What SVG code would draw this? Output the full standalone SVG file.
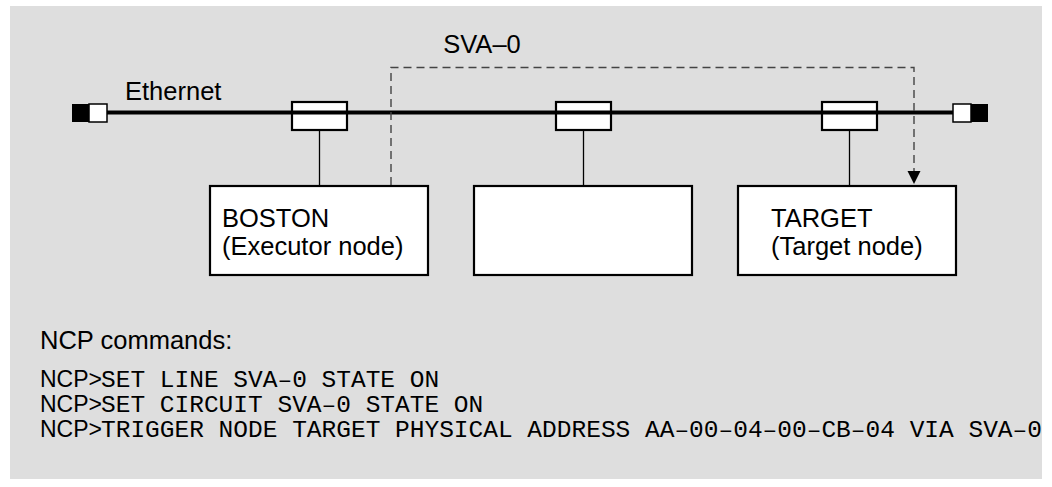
<svg xmlns="http://www.w3.org/2000/svg" width="1052" height="487" viewBox="0 0 1052 487">
  <style>
    .sans { font-family: "Liberation Sans", Arial, sans-serif; font-size: 25.5px; fill: #000; }
    .prompt { font-family: "Liberation Sans", Arial, sans-serif; font-size: 23px; fill: #000; }
    .mono { font-family: "Liberation Mono", "Courier New", monospace; font-size: 24.5px; fill: #000; }
    .node { fill: #fff; stroke: #000; stroke-width: 2.2; }
    .tap { fill: #fff; stroke: #000; stroke-width: 2.2; }
    .drop { stroke: #000; stroke-width: 1.3; fill: none; }
    .dash { stroke: #444; stroke-width: 1.4; fill: none; stroke-dasharray: 8 5; }
  </style>
  <rect x="10" y="6" width="1032" height="473" fill="#dedede"/>

  <g id="ethernet">
    <rect x="72" y="104" width="17" height="18" fill="#000"/>
    <rect x="89" y="104" width="18" height="18" fill="#fff" stroke="#000" stroke-width="1.5"/>
    <rect x="953" y="104" width="18" height="18" fill="#fff" stroke="#000" stroke-width="1.5"/>
    <rect x="971" y="104" width="17" height="18" fill="#000"/>
    <text class="sans" x="125" y="100">Ethernet</text>
  </g>

  <g id="tap1"><rect class="tap" x="292" y="102" width="55" height="28"/></g>
  <g id="tap2"><rect class="tap" x="556" y="102" width="55" height="28"/></g>
  <g id="tap3"><rect class="tap" x="822" y="102" width="55" height="28"/></g>

  <g id="connectors">
    <line x1="107" y1="112.5" x2="953" y2="112.5" stroke="#000" stroke-width="4"/>
    <line class="drop" x1="319.5" y1="130" x2="319.5" y2="186"/>
    <line class="drop" x1="583.5" y1="130" x2="583.5" y2="186"/>
    <line class="drop" x1="849.5" y1="130" x2="849.5" y2="186"/>
    <path class="dash" d="M391,185 V67.5 H914 V171"/>
    <path d="M907.5,171 L920.5,171 L914,184 Z" fill="#000"/>
    <text class="sans" x="482" y="53" text-anchor="middle">SVA–0</text>
  </g>

  <g id="boston">
    <rect class="node" x="210" y="186" width="218" height="89"/>
    <text class="sans" x="222" y="227">BOSTON</text>
    <text class="sans" x="222" y="255">(Executor node)</text>
  </g>
  <g id="middle">
    <rect class="node" x="474" y="186" width="218" height="89"/>
  </g>
  <g id="target">
    <rect class="node" x="738" y="186" width="218" height="89"/>
    <text class="sans" x="771" y="227">TARGET</text>
    <text class="sans" x="771" y="255">(Target node)</text>
  </g>

  <g id="commands">
    <text class="sans" x="40" y="349">NCP commands:</text>
    <text x="40" y="387"><tspan class="prompt">NCP&gt;</tspan><tspan class="mono" x="101">SET LINE SVA–0 STATE ON</tspan></text>
    <text x="40" y="412"><tspan class="prompt">NCP&gt;</tspan><tspan class="mono" x="101">SET CIRCUIT SVA–0 STATE ON</tspan></text>
    <text x="40" y="437"><tspan class="prompt">NCP&gt;</tspan><tspan class="mono" x="101">TRIGGER NODE TARGET PHYSICAL ADDRESS AA–00–04–00–CB–04 VIA SVA–0</tspan></text>
  </g>
</svg>
